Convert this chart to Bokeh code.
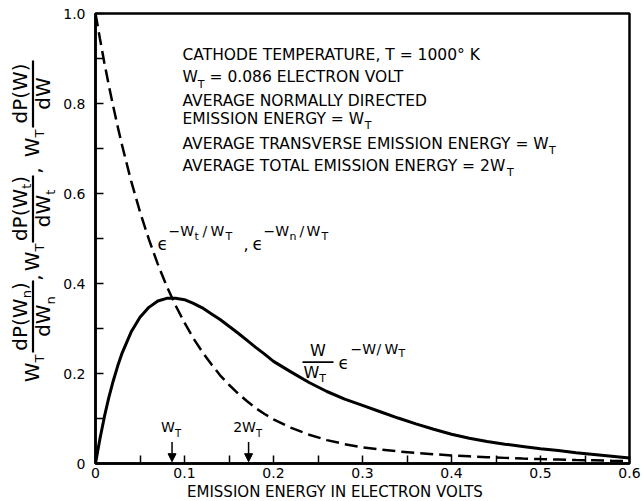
import math
from bokeh.plotting import figure
from bokeh.layouts import row, column
from bokeh.models import Range1d, FixedTicker, Label, Arrow, NormalHead
from bokeh.embed import file_html
from bokeh.resources import INLINE

# ---------------- data ----------------
W_T = 0.086  # electron volt
energy = [0.0, 0.005, 0.01, 0.015, 0.02, 0.025, 0.03,
          0.04, 0.05, 0.06, 0.07, 0.08, 0.09, 0.10, 0.11, 0.12, 0.13, 0.14,
          0.15, 0.16, 0.17, 0.18, 0.19, 0.20,
          0.22, 0.24, 0.26, 0.28, 0.30, 0.32, 0.34, 0.36, 0.38, 0.40, 0.42,
          0.44, 0.46, 0.48, 0.50, 0.52, 0.54, 0.56, 0.58, 0.60]
# dashed curve: normally directed / transverse energy distribution
dist_component = [1.000, 0.944, 0.890, 0.840, 0.793, 0.748, 0.706,
                  0.628, 0.559, 0.498, 0.443, 0.394, 0.351, 0.313, 0.278, 0.248,
                  0.221, 0.196, 0.175, 0.156, 0.139, 0.123, 0.110, 0.098,
                  0.079, 0.064, 0.052, 0.043, 0.036, 0.031, 0.027, 0.0235, 0.0205,
                  0.018, 0.016, 0.014, 0.0125, 0.011, 0.0098, 0.0088, 0.0078,
                  0.007, 0.0062, 0.0055]
# solid curve: total energy distribution
dist_total = [0.000, 0.055, 0.104, 0.147, 0.184, 0.217, 0.246,
              0.292, 0.325, 0.347, 0.361, 0.367, 0.367, 0.364, 0.356, 0.346,
              0.333, 0.320, 0.305, 0.290, 0.274, 0.258, 0.243, 0.227,
              0.203, 0.180, 0.160, 0.143, 0.129, 0.115, 0.101, 0.088, 0.076,
              0.065, 0.056, 0.049, 0.043, 0.038, 0.033, 0.029, 0.024, 0.020,
              0.016, 0.012]

x_ticks = [0, 0.1, 0.2, 0.3, 0.4, 0.5, 0.6]
x_tick_labels = ["0", "0.1", "0.2", "0.3", "0.4", "0.5", "0.6"]
x_minor = [0.05, 0.15, 0.25, 0.35, 0.45, 0.55]
y_ticks = [0, 0.2, 0.4, 0.6, 0.8, 1.0]
y_tick_labels = ["0", "0.2", "0.4", "0.6", "0.8", "1.0"]
y_minor = [0.1, 0.3, 0.5, 0.7, 0.9]
arrow_marks = [W_T, 2 * W_T]
arrow_texts = [("W", "T"), ("2W", "T")]
x_title = "EMISSION ENERGY IN ELECTRON VOLTS"

# ---------------- layout ----------------
FONT = "DejaVu Sans"
L, R, T, B = 95, 629, 13, 463      # plot frame in page pixels
YLAB_W = 60                        # width of the strip holding the y label
MAIN_H = 484                       # height of the main figure
XMAX, YMAX = 0.6, 1.0
FIX = 0.43                         # baseline correction (fraction of font size)


def xd(px):
    return (px - L) / (R - L) * XMAX


def yd(py):
    return (B - py) / (B - T) * YMAX


def xpx(x):
    return L + x / XMAX * (R - L)


p = figure(width=642 - YLAB_W, height=MAIN_H, x_range=Range1d(0, XMAX),
           y_range=Range1d(0, YMAX), output_backend="svg", toolbar_location=None,
           min_border_left=L - YLAB_W, min_border_right=642 - R, min_border_top=T,
           min_border_bottom=MAIN_H - B)
p.xgrid.visible = False
p.ygrid.visible = False
p.outline_line_color = "black"
p.outline_line_width = 2.5
p.outline_line_alpha = 1.0
p.background_fill_color = "white"
p.border_fill_color = "white"

for ax, ticks, minor, labels, standoff in (
        (p.xaxis, x_ticks, x_minor, x_tick_labels, 4),
        (p.yaxis, y_ticks, y_minor, y_tick_labels, 10)):
    ax.ticker = FixedTicker(ticks=ticks, minor_ticks=minor)
    ax.major_label_overrides = dict(zip(ticks, labels))
    ax.major_tick_in = 8
    ax.major_tick_out = 0
    ax.minor_tick_in = 8
    ax.minor_tick_out = 0
    ax.axis_line_width = 2.5
    ax.major_tick_line_width = 1.5
    ax.minor_tick_line_width = 1.5
    ax.axis_line_color = "black"
    ax.major_tick_line_color = "black"
    ax.minor_tick_line_color = "black"
    ax.major_label_text_font = FONT
    ax.major_label_text_font_size = "14px"
    ax.major_label_text_color = "black"
    ax.major_label_standoff = standoff

p.line(energy, dist_component, line_color="black", line_width=2.5, line_dash="13 6")
p.line(energy, dist_total, line_color="black", line_width=3)

# strip for the y label (page-pixel coordinates)
ylab = figure(width=YLAB_W, height=501, x_range=Range1d(0, YLAB_W),
              y_range=Range1d(501, 0), output_backend="svg", toolbar_location=None,
              x_axis_type=None, y_axis_type=None, min_border=0)
# strip for the x title; its frame is aligned with the main frame (page x L..R)
xtit = figure(width=642 - YLAB_W, height=501 - MAIN_H, x_range=Range1d(L, R),
              y_range=Range1d(501, MAIN_H), output_backend="svg", toolbar_location=None,
              x_axis_type=None, y_axis_type=None, min_border=0)
for f in (ylab, xtit):
    f.outline_line_color = None
    f.xgrid.visible = False
    f.ygrid.visible = False
    f.background_fill_color = "white"
    f.border_fill_color = "white"

# ---------------- text helpers ----------------
WID = {' ': 0.318, '\u00a0': 0.318, 'A': 0.684, 'B': 0.686, 'C': 0.698, 'D': 0.770,
       'E': 0.632, 'F': 0.575, 'G': 0.775, 'H': 0.752, 'I': 0.295, 'K': 0.656,
       'L': 0.557, 'M': 0.863, 'N': 0.748, 'O': 0.787, 'P': 0.603, 'R': 0.695,
       'S': 0.635, 'T': 0.611, 'U': 0.732, 'V': 0.684, 'W': 0.989, 'Y': 0.611,
       '.': 0.318, ',': 0.318, '=': 0.838, '\u2212': 0.838, '/': 0.337,
       '(': 0.390, ')': 0.390, '\u00b0': 0.5, 'd': 0.635, 'n': 0.634, 't': 0.392,
       '\u03f5': 0.53}


def width(t, s):
    return sum(WID.get(c, 0.636) for c in t) * s


def lab(fig, x, y, text, size, angle=0.0, align="left"):
    fig.add_layout(Label(x=x, y=y, text=text, angle=angle,
                         text_align=align, text_baseline="alphabetic",
                         text_font=FONT, text_font_size=f"{size}px",
                         text_color="black"))


def mlab(px, py, text, size):
    # (px, py) = page pixel of the baseline start
    lab(p, xd(px), yd(py - FIX * size), text, size)


def hrun(x, y, pieces):
    for piece in pieces:
        t, s, dy = piece[:3]
        x += piece[3] if len(piece) > 3 else 0
        mlab(x, y - dy, t, s)
        x += width(t, s)


def vlab(bx, y, text, size):
    lab(ylab, bx - FIX * size, y, text, size, angle=math.pi / 2)


def vrun(bx, yc, pieces):
    total = sum(width(t, s) for t, s, _ in pieces)
    y = yc + total / 2
    for t, s, dx in pieces:
        vlab(bx + dx, y, t, s)
        y -= width(t, s)


def seg(fig, x0, y0, x1, y1, w=2.0):
    fig.add_layout(Arrow(start=None, end=None, x_start=x0, y_start=y0,
                         x_end=x1, y_end=y1, line_width=w, line_color="black"))


# ---------------- annotation block ----------------
S = 15.5
SS = 11
hrun(182, 60.7, [("CATHODE TEMPERATURE, T = 1000\u00b0 K", S, 0)])
hrun(182, 83.3, [("W", S, 0), ("T", SS, -5), ("\u00a0= 0.086 ELECTRON VOLT", S, 0)])
hrun(182, 106.7, [("AVERAGE NORMALLY DIRECTED", S, 0)])
hrun(182, 125, [("EMISSION ENERGY = W", S, 0), ("T", SS, -5)])
hrun(182, 150, [("AVERAGE TRANSVERSE EMISSION ENERGY = W", S, 0), ("T", SS, -5, -3)])
hrun(182, 171.7, [("AVERAGE TOTAL EMISSION ENERGY = 2W", S, 0), ("T", SS, -5, -2)])

# ---------------- curve labels ----------------
for x, t, s, dy in [(157, "\u03f5", 17, -1), (168, "\u2212W", 14, 13), (194, "t", 11, 9),
                    (202, "/", 14, 13), (210, "W", 14, 13), (225, "T", 11, 9),
                    (243, ",", 16, 0),
                    (252, "\u03f5", 17, -1), (263, "\u2212W", 14, 13), (289, "n", 11, 9),
                    (299, "/", 14, 13), (306, "W", 14, 13), (321, "T", 11, 9)]:
    mlab(x, 250 - dy, t, s)

mlab(317.5 - width("W", 16) / 2, 357, "W", 16)
seg(p, xd(302), yd(361.7), xd(333), yd(361.7), w=1.8)
hrun(303, 379, [("W", 16, 0), ("T", SS, -4)])
for x, t, s, dy in [(338, "\u03f5", 17, -4), (350, "\u2212W", 14, 11), (376, "/", 14, 11),
                    (384, "W", 14, 11), (398, "T", 11, 8)]:
    mlab(x, 366 - dy, t, s)

# ---------------- W_T markers on the axis ----------------
for m, (main, sub) in zip(arrow_marks, arrow_texts):
    p.add_layout(Arrow(end=NormalHead(size=8, fill_color="black", line_color="black"),
                       x_start=m, y_start=0.048, x_end=m, y_end=0.004,
                       line_width=1.5, line_color="black"))
    tw = width(main, 14) + width(sub, 10)
    x0 = xpx(m) - tw / 2 - 1
    hrun(x0, 433, [(main, 14, 0), (sub, 10, -4)])

# ---------------- axis titles ----------------
lab(xtit, 336 - width(x_title, 15) / 2, 498 - FIX * 15, x_title, 15)

Y_BIG, Y_SUB = 20, 13
for yc_w, yc_f, sub, comma_y, fr in [(368, 316, "n", 277, (280, 352)),
                                     (257, 208, "t", 170, (175, 242)),
                                     (143, 93, None, None, (60, 127))]:
    vrun(40, yc_w, [("W", Y_BIG, 0), ("T", Y_SUB, 5)])
    if sub:
        vrun(28, yc_f, [("dP(W", Y_BIG, 0), (sub, Y_SUB, 4), (")", Y_BIG, 0)])
        vrun(51, yc_f, [("dW", Y_BIG, 0), (sub, Y_SUB, 5)])
    else:
        vrun(28, yc_f, [("dP(W)", Y_BIG, 0)])
        vrun(51, yc_f, [("dW", Y_BIG, 0)])
    seg(ylab, 32.5, fr[0], 32.5, fr[1], w=2.2)
    if comma_y:
        vlab(42, comma_y + width(",", Y_BIG) / 2, ",", Y_BIG)

layout = row(ylab, column(p, xtit))
open("out.html", "w").write(file_html(layout, INLINE))
